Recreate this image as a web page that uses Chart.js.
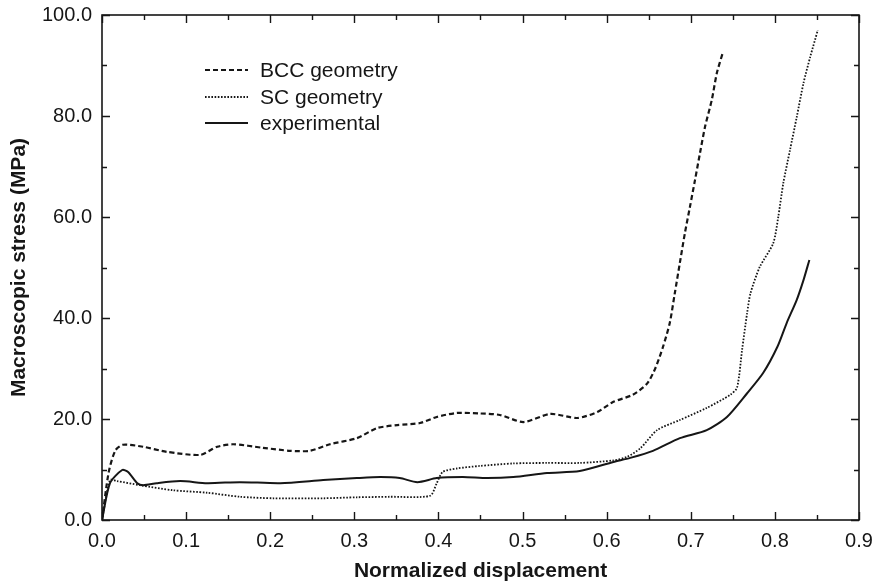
<!DOCTYPE html>
<html><head><meta charset="utf-8">
<script src="https://cdn.jsdelivr.net/npm/chart.js@4/dist/chart.umd.min.js"></script>
<style>html,body{margin:0;padding:0;background:#fff}#wrap{width:881px;height:585px}</style>
</head><body><div id="wrap"><canvas id="c" width="881" height="585"></canvas></div>
<script>
const seriesNames = ["BCC geometry", "SC geometry", "experimental"];
const bccX = [0.0, 0.008, 0.016, 0.025, 0.049, 0.077, 0.117, 0.137, 0.156, 0.191, 0.224, 0.247, 0.271, 0.303, 0.327, 0.351, 0.378, 0.398, 0.422, 0.449, 0.473, 0.501, 0.533, 0.565, 0.589, 0.608, 0.631, 0.648, 0.658, 0.667, 0.675, 0.681, 0.687, 0.693, 0.699, 0.705, 0.711, 0.717, 0.725, 0.731, 0.738];
const bccY = [0.0, 9.5, 13.8, 14.9, 14.5, 13.5, 12.9, 14.5, 15.0, 14.3, 13.7, 13.7, 15.0, 16.2, 18.2, 18.8, 19.2, 20.4, 21.2, 21.1, 20.8, 19.4, 21.0, 20.2, 21.4, 23.4, 24.8, 27.0, 30.1, 34.3, 39.0, 44.9, 50.9, 56.8, 62.0, 67.3, 72.7, 77.9, 83.2, 88.5, 92.5];
const scX = [0.0, 0.0095, 0.018, 0.045, 0.084, 0.125, 0.164, 0.204, 0.263, 0.303, 0.342, 0.390, 0.398, 0.405, 0.422, 0.449, 0.489, 0.529, 0.568, 0.608, 0.624, 0.640, 0.660, 0.687, 0.719, 0.747, 0.755, 0.761, 0.767, 0.771, 0.782, 0.798, 0.804, 0.810, 0.818, 0.826, 0.834, 0.842, 0.851];
const scY = [0.0, 7.9, 7.7, 6.9, 5.9, 5.4, 4.6, 4.3, 4.3, 4.5, 4.6, 4.8, 7.3, 9.5, 10.2, 10.7, 11.2, 11.3, 11.3, 11.8, 12.5, 14.2, 17.8, 19.8, 22.2, 24.8, 26.2, 33.7, 41.0, 44.9, 50.1, 54.8, 60.0, 66.7, 73.3, 79.8, 86.5, 91.7, 97.0];
const expX = [0.0, 0.0095, 0.024, 0.031, 0.042, 0.049, 0.065, 0.093, 0.125, 0.164, 0.212, 0.263, 0.303, 0.331, 0.354, 0.375, 0.398, 0.429, 0.458, 0.489, 0.529, 0.568, 0.608, 0.628, 0.655, 0.687, 0.719, 0.743, 0.767, 0.786, 0.803, 0.814, 0.826, 0.834, 0.841];
const expY = [0.0, 7.3, 9.9, 9.5, 7.3, 6.9, 7.3, 7.7, 7.3, 7.5, 7.3, 7.9, 8.3, 8.5, 8.3, 7.5, 8.3, 8.5, 8.3, 8.5, 9.3, 9.7, 11.5, 12.3, 13.7, 16.2, 17.8, 20.4, 25.1, 29.1, 34.3, 39.0, 43.6, 47.5, 51.5];
const xTickValues = [0.0, 0.1, 0.2, 0.3, 0.4, 0.5, 0.6, 0.7, 0.8, 0.9];
const yTickValues = [0, 20, 40, 60, 80, 100];

const FONT = "'Liberation Sans', Arial, sans-serif";
const INK = '#161616';
const toPts = (xs, ys) => xs.map((x, i) => ({x: x, y: ys[i]}));
const dashes = [[5, 3], [1.6, 1.6], []];
const widths = [2.2, 1.8, 2.0];

const boxTicks = {
  id: 'boxTicks',
  afterDatasetsDraw(chart) {
    const {ctx, chartArea: a, scales} = chart;
    ctx.save();
    ctx.strokeStyle = INK;
    ctx.lineWidth = 1.6;
    ctx.strokeRect(a.left, a.top, a.right - a.left, a.bottom - a.top);
    ctx.lineWidth = 1.4;
    ctx.beginPath();
    for (let v = 0; v <= 0.9001; v += 0.05) {
      const major = Math.abs(Math.round(v * 10) - v * 10) < 1e-6;
      const L = major ? 8 : 5;
      const px = Math.round(scales.x.getPixelForValue(v)) + 0.5;
      ctx.moveTo(px, a.bottom); ctx.lineTo(px, a.bottom - L);
      ctx.moveTo(px, a.top); ctx.lineTo(px, a.top + L);
    }
    for (let v = 0; v <= 100; v += 10) {
      const major = v % 20 === 0;
      const L = major ? 8 : 5;
      const py = Math.round(scales.y.getPixelForValue(v)) + 0.5;
      ctx.moveTo(a.left, py); ctx.lineTo(a.left + L, py);
      ctx.moveTo(a.right, py); ctx.lineTo(a.right - L, py);
    }
    ctx.stroke();
    // legend
    const rows = [70, 97, 123];
    chart.data.datasets.forEach((ds, i) => {
      ctx.beginPath();
      ctx.setLineDash(dashes[i]);
      ctx.lineWidth = widths[i];
      ctx.moveTo(205, rows[i]); ctx.lineTo(248, rows[i]);
      ctx.stroke();
      ctx.setLineDash([]);
      ctx.fillStyle = INK;
      ctx.font = '21px ' + FONT;
      ctx.textBaseline = 'middle';
      ctx.textAlign = 'left';
      ctx.fillText(ds.label, 260, rows[i] + 1);
    });
    ctx.restore();
  }
};

new Chart(document.getElementById('c'), {
  type: 'scatter',
  data: {
    datasets: [
      {label: seriesNames[0], data: toPts(bccX, bccY)},
      {label: seriesNames[1], data: toPts(scX, scY)},
      {label: seriesNames[2], data: toPts(expX, expY)}
    ].map((d, i) => Object.assign(d, {
      showLine: true, pointRadius: 0, borderColor: INK, backgroundColor: INK,
      borderWidth: widths[i], borderDash: dashes[i], tension: 0.25, fill: false
    }))
  },
  options: {
    responsive: false, animation: false,
    layout: {padding: {left: 0, right: 22, top: 15, bottom: 0}},
    plugins: {legend: {display: false}, tooltip: {enabled: false}},
    scales: {
      x: {
        type: 'linear', min: 0, max: 0.9,
        afterBuildTicks: s => { s.ticks = xTickValues.map(v => ({value: v})); },
        afterFit: s => { s.height = 65; s.paddingLeft = 0; s.paddingRight = 0; },
        grid: {display: false, drawTicks: false},
        border: {display: false},
        ticks: {color: INK, font: {family: FONT, size: 20}, padding: 9, maxRotation: 0,
                callback: v => Number(v).toFixed(1)},
        title: {display: true, text: 'Normalized displacement', color: INK,
                font: {family: FONT, size: 21, weight: 'bold'}, padding: {top: 0, bottom: 1}}
      },
      y: {
        type: 'linear', min: 0, max: 100,
        afterBuildTicks: s => { s.ticks = yTickValues.map(v => ({value: v})); },
        afterFit: s => { s.width = 102; s.paddingTop = 0; s.paddingBottom = 0; },
        grid: {display: false, drawTicks: false},
        border: {display: false},
        ticks: {color: INK, font: {family: FONT, size: 20}, padding: 10,
                callback: v => Number(v).toFixed(1)},
        title: {display: true, text: 'Macroscopic stress (MPa)', color: INK,
                font: {family: FONT, size: 21, weight: 'bold'}, padding: {top: 7, bottom: 0}}
      }
    }
  },
  plugins: [boxTicks]
});
</script></body></html>
